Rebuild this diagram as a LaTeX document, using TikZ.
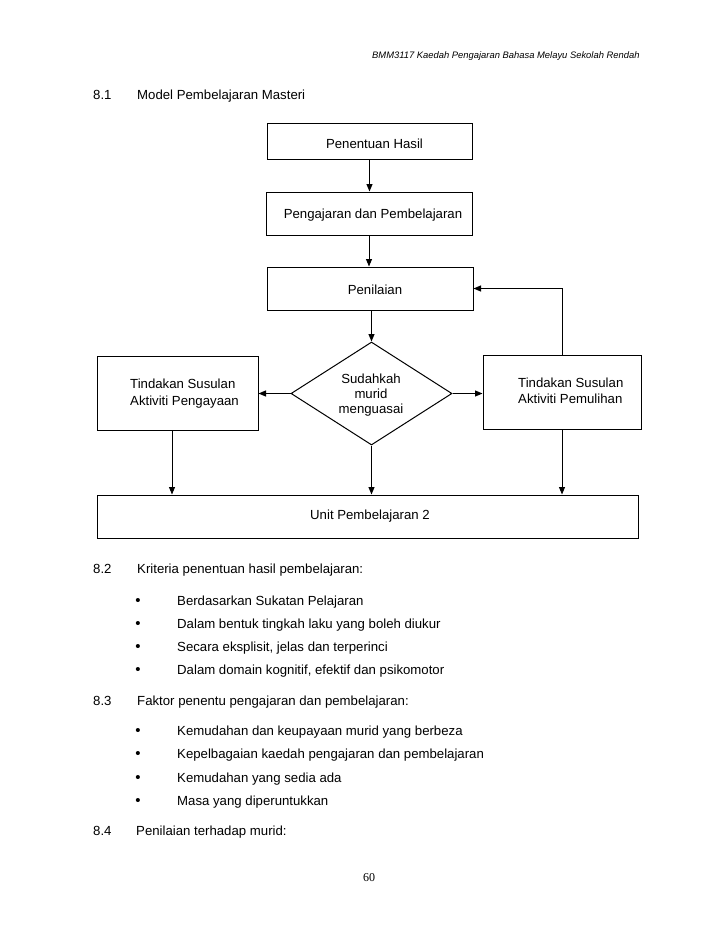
\documentclass[tikz,border=0pt]{standalone}
\usepackage{fontspec}
\setmainfont{Liberation Sans}
\newfontfamily\pagenumfont{Liberation Serif}
\usetikzlibrary{arrows.meta,shapes.geometric}
\begin{document}
\begin{tikzpicture}[x=1pt,y=-1pt,
  box/.style={draw,line width=1pt,inner sep=0pt,rectangle},
  dia/.style={draw,line width=1pt,inner sep=0pt,diamond},
  arr/.style={line width=1pt,-{Triangle[length=7.5pt,width=6pt]}},
  txt/.style={inner sep=0pt,anchor=base,font=\fontsize{13.2}{15}\selectfont},
  ltxt/.style={inner sep=0pt,anchor=base west,font=\fontsize{13.2}{15}\selectfont},
  hdr/.style={inner sep=0pt,anchor=base west,font=\fontsize{9.4}{11}\selectfont\itshape},
  bul/.style={inner sep=0pt,anchor=base,font=\fontsize{15}{15}\selectfont},
  pnum/.style={inner sep=0pt,anchor=base,font=\fontsize{12}{14}\pagenumfont}]
\useasboundingbox[fill=white] (0,0) rectangle (728,943);

% header
\node[hdr] (hd) at (372,58) {BMM3117 Kaedah Pengajaran Bahasa Melayu Sekolah Rendah};

% section 8.1
\node[ltxt] (s81n) at (93,99) {8.1};
\node[ltxt] (s81t) at (137,99) {Model Pembelajaran Masteri};

% flowchart boxes
\node[box,minimum width=205pt,minimum height=36pt] (b1) at (369.5,141) {};
\node[box,minimum width=206pt,minimum height=43pt] (b2) at (369,213.5) {};
\node[box,minimum width=206pt,minimum height=43pt] (b3) at (370,288.5) {};
\node[dia,minimum width=161pt,minimum height=103pt] (d) at (371.5,393.5) {};
\node[box,minimum width=161pt,minimum height=74pt] (L) at (177.5,393) {};
\node[box,minimum width=158pt,minimum height=74pt] (R) at (562,392) {};
\node[box,minimum width=541pt,minimum height=43pt] (U) at (367.5,516.5) {};

% box texts
\node[txt] (t1) at (374.5,148) {Penentuan Hasil};
\node[txt] (t2) at (373,218) {Pengajaran dan Pembelajaran};
\node[txt] (t3) at (375,294) {Penilaian};
\node[txt] (td1) at (371,383) {Sudahkah};
\node[txt] (td2) at (371,398) {murid};
\node[txt] (td3) at (371,413) {menguasai};
\node[ltxt] (tl1) at (130,388) {Tindakan Susulan};
\node[ltxt] (tl2) at (130,405) {Aktiviti Pengayaan};
\node[ltxt] (tr1) at (518,387) {Tindakan Susulan};
\node[ltxt] (tr2) at (518,403) {Aktiviti Pemulihan};
\node[txt] (tu) at (370,519) {Unit Pembelajaran 2};

% connectors
\draw[arr] (b1.south) -- (b1.south |- b2.north);
\draw[arr] (b2.south) -- (b2.south |- b3.north);
\draw[arr] (d.north |- b3.south) -- (d.north);
\draw[arr] (d.west) -- (d.west -| L.east);
\draw[arr] (d.east) -- (d.east -| R.west);
\draw[arr] (R.north) |- (b3.east);
\draw[arr] ([xshift=-5.5pt]L.south) -- ([xshift=-5.5pt]L.south |- U.north);
\draw[arr] (d.south) -- (d.south |- U.north);
\draw[arr] (R.south) -- (R.south |- U.north);

% section 8.2
\node[ltxt] (s82n) at (93,573) {8.2};
\node[ltxt] (s82t) at (137,573) {Kriteria penentuan hasil pembelajaran:};
\node[bul] (b21) at (138,605) {\textbullet};
\node[ltxt] (i21) at (177,605) {Berdasarkan Sukatan Pelajaran};
\node[bul] (b22) at (138,628) {\textbullet};
\node[ltxt] (i22) at (177,628) {Dalam bentuk tingkah laku yang boleh diukur};
\node[bul] (b23) at (138,651) {\textbullet};
\node[ltxt] (i23) at (177,651) {Secara eksplisit, jelas dan terperinci};
\node[bul] (b24) at (138,674) {\textbullet};
\node[ltxt] (i24) at (177,674) {Dalam domain kognitif, efektif dan psikomotor};

% section 8.3
\node[ltxt] (s83n) at (93,705) {8.3};
\node[ltxt] (s83t) at (137,705) {Faktor penentu pengajaran dan pembelajaran:};
\node[bul] (b31) at (138,735) {\textbullet};
\node[ltxt] (i31) at (177,735) {Kemudahan dan keupayaan murid yang berbeza};
\node[bul] (b32) at (138,758) {\textbullet};
\node[ltxt] (i32) at (177,758) {Kepelbagaian kaedah pengajaran dan pembelajaran};
\node[bul] (b33) at (138,782) {\textbullet};
\node[ltxt] (i33) at (177,782) {Kemudahan yang sedia ada};
\node[bul] (b34) at (138,805) {\textbullet};
\node[ltxt] (i34) at (177,805) {Masa yang diperuntukkan};

% section 8.4
\node[ltxt] (s84n) at (93,835) {8.4};
\node[ltxt] (s84t) at (136,835) {Penilaian terhadap murid:};

% page number
\node[pnum] (pg) at (369,881) {60};
\end{tikzpicture}
\end{document}
